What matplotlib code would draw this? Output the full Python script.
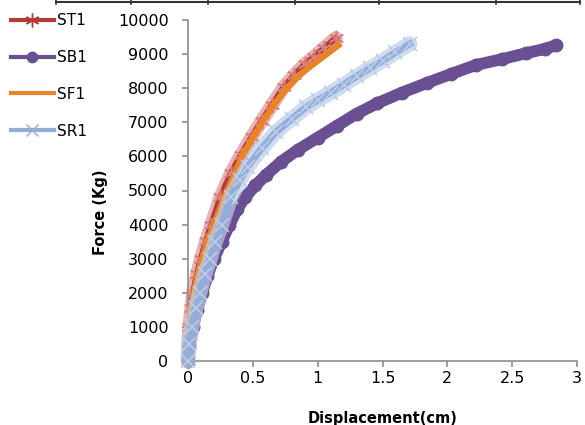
import matplotlib
matplotlib.use("Agg")
import matplotlib.pyplot as plt
from matplotlib.lines import Line2D

# load-displacement readings for the four specimens
st1_disp = [0, 0.004, 0.01, 0.025, 0.04, 0.07, 0.10, 0.14, 0.18, 0.25, 0.33, 0.41,
            0.49, 0.57, 0.65, 0.74, 0.82, 0.90, 0.97, 1.05, 1.14]
st1_force = [0, 600, 1000, 1550, 2000, 2550, 3000, 3520, 4000, 4800, 5500, 6050,
             6570, 7050, 7520, 8040, 8380, 8700, 8910, 9180, 9470]

sb1_disp = [0, 0.01, 0.04, 0.07, 0.11, 0.15, 0.2, 0.26, 0.32, 0.38, 0.44, 0.52, 0.6,
            0.72, 0.85, 1.0, 1.15, 1.3, 1.46, 1.65, 1.84, 2.03, 2.22, 2.42, 2.61,
            2.75, 2.84]
sb1_force = [0, 450, 1000, 1500, 2000, 2500, 3000, 3500, 4000, 4450, 4800, 5150,
             5450, 5850, 6200, 6550, 6900, 7250, 7560, 7870, 8150, 8420, 8680, 8850,
             9030, 9150, 9260]

sf1_disp = [0, 0.005, 0.012, 0.03, 0.045, 0.08, 0.11, 0.15, 0.2, 0.28, 0.36, 0.43,
            0.5, 0.58, 0.66, 0.75, 0.85, 0.93, 1.0, 1.08, 1.16]
sf1_force = [0, 600, 1000, 1600, 2000, 2600, 3000, 3500, 4000, 4800, 5500, 6100,
             6550, 7050, 7500, 7950, 8350, 8600, 8800, 9030, 9260]

sr1_disp = [0, 0.01, 0.03, 0.06, 0.09, 0.13, 0.17, 0.21, 0.26, 0.33, 0.4, 0.46,
            0.57, 0.68, 0.8, 0.91, 1.0, 1.1, 1.2, 1.3, 1.4, 1.5, 1.6, 1.71]
sr1_force = [0, 500, 1000, 1550, 2000, 2550, 3000, 3500, 4000, 4800, 5300, 5700,
             6250, 6720, 7100, 7440, 7650, 7870, 8100, 8350, 8580, 8800, 9050, 9300]

x_ticks = [0, 0.5, 1, 1.5, 2, 2.5, 3]
x_tick_labels = ["0", "0.5", "1", "1.5", "2", "2.5", "3"]
y_ticks = list(range(0, 10001, 1000))

ST1_COLOR = "#b23c38"
ST1_MARK = "#d7807d"
SB1_COLOR = "#6b4f93"
SF1_COLOR = "#e8832c"
SR1_COLOR = "#91add8"
SR1_MARK = "#bccde9"
AXIS_GRAY = "#8c8c8c"

fig = plt.figure(figsize=(5.85, 4.25), dpi=100)
ax = fig.add_axes([188 / 585, 1 - 361 / 425, 389 / 585, 341 / 425])

# ST1: dark red core with a halo of asterisk markers
ax.plot(st1_disp, st1_force, color=ST1_MARK, lw=10, alpha=0.6,
        solid_capstyle="round", clip_on=False, zorder=2)
ax.plot(st1_disp, st1_force, color=ST1_COLOR, lw=4.5, marker=(6, 2, 0), ms=11,
        mec=ST1_MARK, mew=1.2, clip_on=False, zorder=3)

# SB1: fat purple circles
ax.plot(sb1_disp, sb1_force, color=SB1_COLOR, lw=8.5, solid_capstyle="round",
        marker="o", ms=9, mec=SB1_COLOR, clip_on=False, zorder=4)

# SF1: plain orange line
ax.plot(sf1_disp, sf1_force, color=SF1_COLOR, lw=4.5, clip_on=False, zorder=5)

# SR1: light blue core with x markers
ax.plot(sr1_disp, sr1_force, color=SR1_MARK, lw=11, alpha=0.7,
        solid_capstyle="round", clip_on=False, zorder=6)
ax.plot(sr1_disp, sr1_force, color=SR1_COLOR, lw=5, marker="x", ms=10,
        mec=SR1_MARK, mew=1.2, clip_on=False, zorder=7)

ax.set_xlim(0, 3)
ax.set_ylim(0, 10000)
ax.set_xticks(x_ticks)
ax.set_xticklabels(x_tick_labels)
ax.set_yticks(y_ticks)

for side in ("top", "right"):
    ax.spines[side].set_visible(False)
for side in ("left", "bottom"):
    ax.spines[side].set_color(AXIS_GRAY)
    ax.spines[side].set_linewidth(1.2)
ax.tick_params(axis="both", colors=AXIS_GRAY, length=4.5, width=1.2,
               labelcolor="black", labelsize=11.5)
ax.tick_params(axis="y", pad=9.5)
ax.tick_params(axis="x", pad=3)

fig.text(383 / 585, 1 - 411 / 425, "Displacement(cm)", ha="center", va="top",
         fontsize=10.5, fontweight="bold")
fig.text(100 / 585, 1 - 212 / 425, "Force (Kg)", ha="center", va="center",
         rotation=90, fontsize=10.5, fontweight="bold")

handles = [
    Line2D([], [], color=ST1_COLOR, lw=3, marker=(6, 2, 0), ms=10,
           mec=ST1_COLOR, mew=1),
    Line2D([], [], color=SB1_COLOR, lw=3, marker="o", ms=7.5, mec=SB1_COLOR),
    Line2D([], [], color=SF1_COLOR, lw=3),
    Line2D([], [], color=SR1_COLOR, lw=3, marker="x", ms=9, mec=SR1_COLOR,
           mew=1),
]
fig.legend(handles, ["ST1", "SB1", "SF1", "SR1"], loc="upper left",
           bbox_to_anchor=(11 / 585, 1 - 13 / 425), frameon=False, fontsize=11,
           handlelength=2.8, handletextpad=0.2, labelspacing=1.43,
           borderpad=0, borderaxespad=0)

# bottom edge of the data table that sits above the chart
table_x = [56, 131, 208, 295, 379, 496, 580]
fig.add_artist(Line2D([56 / 585, 580 / 585], [1 - 2 / 425, 1 - 2 / 425],
                      color="#333333", lw=1.5))
for tx in table_x:
    fig.add_artist(Line2D([tx / 585, tx / 585], [1, 1 - 4 / 425],
                          color="#333333", lw=1.2))

fig.savefig("out.png", dpi=100)
